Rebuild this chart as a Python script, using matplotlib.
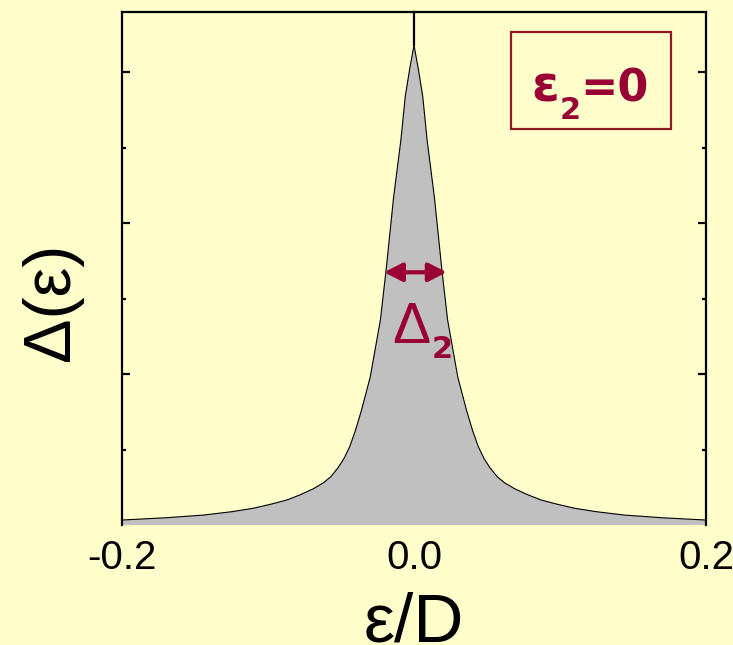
import matplotlib
matplotlib.use("Agg")
import matplotlib.pyplot as plt
from matplotlib.patches import Rectangle

# Hybridization function around the Fermi level (energy in units of D)
eps = [-0.200, -0.170, -0.144, -0.125, -0.110, -0.098, -0.087, -0.078, -0.069,
       -0.062, -0.057, -0.052, -0.048, -0.044, -0.040, -0.036, -0.030, -0.023,
       -0.019, -0.014, -0.009, -0.006, -0.003, 0.000,
       0.003, 0.006, 0.009, 0.014, 0.019, 0.023, 0.030, 0.036, 0.040, 0.044,
       0.048, 0.052, 0.057, 0.062, 0.069, 0.078, 0.087, 0.098, 0.110, 0.125,
       0.144, 0.170, 0.200]
delta = [0.033, 0.048, 0.066, 0.088, 0.111, 0.138, 0.166, 0.20, 0.24,
         0.28, 0.32, 0.38, 0.44, 0.52, 0.63, 0.76, 0.98, 1.36,
         1.70, 2.17, 2.55, 2.84, 3.02, 3.18,
         3.02, 2.84, 2.55, 2.17, 1.70, 1.36, 0.98, 0.76, 0.63, 0.52,
         0.44, 0.38, 0.32, 0.28, 0.24, 0.20, 0.166, 0.138, 0.111, 0.088,
         0.066, 0.048, 0.033]

xticks = [-0.2, 0.0, 0.2]
xticklabels = ["-0.2", "0.0", "0.2"]
y_major = [1, 2, 3]
y_minor = [0.5, 1.5, 2.5]

# Width marker Δ2 (double arrow)
arrow_y = 1.675
arrow_x = (-0.0205, 0.0224)

BG = "#FFFFCC"
RED = "#990033"
BOXRED = "#8E1A24"
SANS = ["Liberation Sans", "DejaVu Sans"]
BOLD = ["DejaVu Sans"]

W, H = 733, 645
fig = plt.figure(figsize=(W / 100, H / 100), dpi=100, facecolor=BG)


def fpos(x, y):
    return x / W, 1 - y / H


ax = fig.add_axes([122 / W, 1 - 525 / H, 584 / W, 513 / H], facecolor=BG)
ax.set_xlim(-0.2, 0.2)
ax.set_ylim(0, 3.40)

ax.fill_between(eps, delta, 0, facecolor="#C0C0C0", edgecolor="none", zorder=2)
ax.plot(eps, delta, color="black", lw=0.8, zorder=3)
ax.plot([0, 0], [max(delta), 3.40], color="black", lw=1.6, zorder=3,
        clip_on=False)

for side in ("left", "right", "top"):
    ax.spines[side].set_linewidth(1.6)
    ax.spines[side].set_color("black")
ax.spines["bottom"].set_visible(False)

ax.set_xticks(xticks)
ax.set_xticklabels(xticklabels, fontsize=29, family=SANS)
ax.tick_params(axis="x", length=0, pad=10)
ax.set_yticks(y_major)
ax.set_yticks(y_minor, minor=True)
ax.set_yticklabels([])
ax.tick_params(axis="y", which="both", direction="in", left=True, right=True,
               width=1.6, color="black")
ax.tick_params(axis="y", which="major", length=6)
ax.tick_params(axis="y", which="minor", length=3)

ax.annotate("", xy=(arrow_x[0], arrow_y), xytext=(arrow_x[1], arrow_y),
            arrowprops=dict(arrowstyle="<|-|>,head_length=0.55,head_width=0.28",
                            mutation_scale=20, color=RED, lw=3,
                            shrinkA=0, shrinkB=0), zorder=4)

# Δ2 label
fig.text(*fpos(392, 343), "Δ", fontsize=41, color=RED, family=SANS,
         ha="left", va="baseline")
fig.text(*fpos(432, 358), "2", fontsize=22, color=RED, family=BOLD,
         fontweight="bold", ha="left", va="baseline")

# ε2=0 box
x0, y0 = fpos(511, 129)
x1, y1 = fpos(671, 32)
fig.add_artist(Rectangle((x0, y0), x1 - x0, y1 - y0, transform=fig.transFigure,
                         facecolor="none", edgecolor=BOXRED, lw=1.6))
fig.text(*fpos(531, 102), "ε", fontsize=36, color=RED, family=BOLD,
         fontweight="bold", ha="left", va="baseline")
fig.text(*fpos(560, 119), "2", fontsize=22, color=RED, family=BOLD,
         fontweight="bold", ha="left", va="baseline")
fig.text(*fpos(580, 102), "=0", fontsize=32, color=RED, family=BOLD,
         fontweight="bold", ha="left", va="baseline")

# Axis titles
fig.text(*fpos(52, 302), "Δ(ε)", fontsize=48, color="black", family=SANS,
         rotation=90, ha="center", va="center")
fig.text(*fpos(414, 641), "ε/D", fontsize=50, color="black", family=SANS,
         ha="center", va="baseline")

fig.savefig("out.png", dpi=100, facecolor=BG)
